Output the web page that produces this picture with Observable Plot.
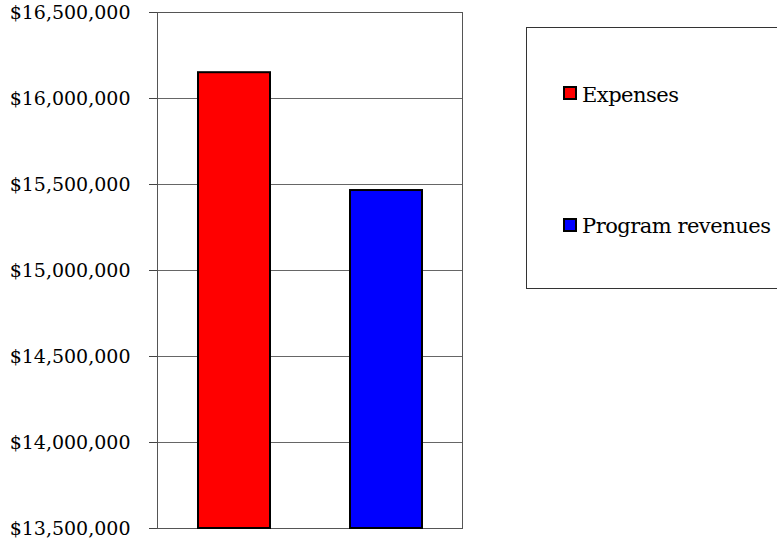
<!DOCTYPE html>
<html>
<head>
<meta charset="utf-8">
<script src="https://cdn.jsdelivr.net/npm/d3@7"></script>
<script src="https://cdn.jsdelivr.net/npm/@observablehq/plot@0.6"></script>
<style>
  html, body { margin: 0; padding: 0; background: white; }
  #wrap { position: relative; width: 777px; height: 543px; overflow: hidden; }
  .lg-box { position: absolute; left: 526px; top: 27px; width: 270px; height: 262px; border: 1px solid #333; box-sizing: border-box; }
  .lg-sw { position: absolute; width: 14px; height: 14px; border: 2px solid #000; box-sizing: border-box; left: 563px; }
  .lg-tx { position: absolute; left: 582px; font-family: "DejaVu Serif", serif; font-size: 21px; letter-spacing: -0.5px; line-height: 26px; white-space: nowrap; color: #000; }
</style>
</head>
<body>
<div id="wrap"></div>
<script>
const categories = ["Expenses", "Program revenues"];
const values = [16150000, 15465000];
const colors = ["#ff0000", "#0000ff"];
const yTicks = [13500000, 14000000, 14500000, 15000000, 15500000, 16000000, 16500000];

const data = categories.map((c, i) => ({category: c, value: values[i]}));
const yMin = yTicks[0], yMax = yTicks[yTicks.length - 1];
const fmt = d3.format("$,");

const chart = Plot.plot({
  width: 777,
  height: 543,
  marginLeft: 157,
  marginRight: 315,
  marginTop: 12,
  marginBottom: 15,
  style: {fontFamily: "'DejaVu Serif', serif", fontSize: "19px", background: "white", color: "#000"},
  x: {domain: categories, paddingInner: 0.528, paddingOuter: 0.264, axis: null},
  y: {domain: [yMin, yMax], axis: null},
  color: {domain: categories, range: colors},
  marks: [
    Plot.gridY(yTicks, {stroke: "#666", strokeOpacity: 1, strokeWidth: 1}),
    Plot.frame({stroke: "#555", strokeWidth: 1}),
    Plot.barY(data, {x: "category", y1: yMin, y2: "value", fill: "category", stroke: "#000", strokeWidth: 2}),
    Plot.axisY(yTicks, {tickFormat: fmt, tickSize: 8, tickPadding: 19, stroke: "#444", label: null, fill: "#000"})
  ]
});
const wrap = document.getElementById("wrap");
wrap.appendChild(chart);

// legend
const box = document.createElement("div");
box.className = "lg-box";
wrap.appendChild(box);
const swTops = [86, 218];
const txTops = [82, 213];
categories.forEach((c, i) => {
  const sw = document.createElement("div");
  sw.className = "lg-sw";
  sw.style.top = swTops[i] + "px";
  sw.style.background = colors[i];
  wrap.appendChild(sw);
  const tx = document.createElement("div");
  tx.className = "lg-tx";
  tx.style.top = txTops[i] + "px";
  tx.textContent = c;
  wrap.appendChild(tx);
});
</script>
</body>
</html>
